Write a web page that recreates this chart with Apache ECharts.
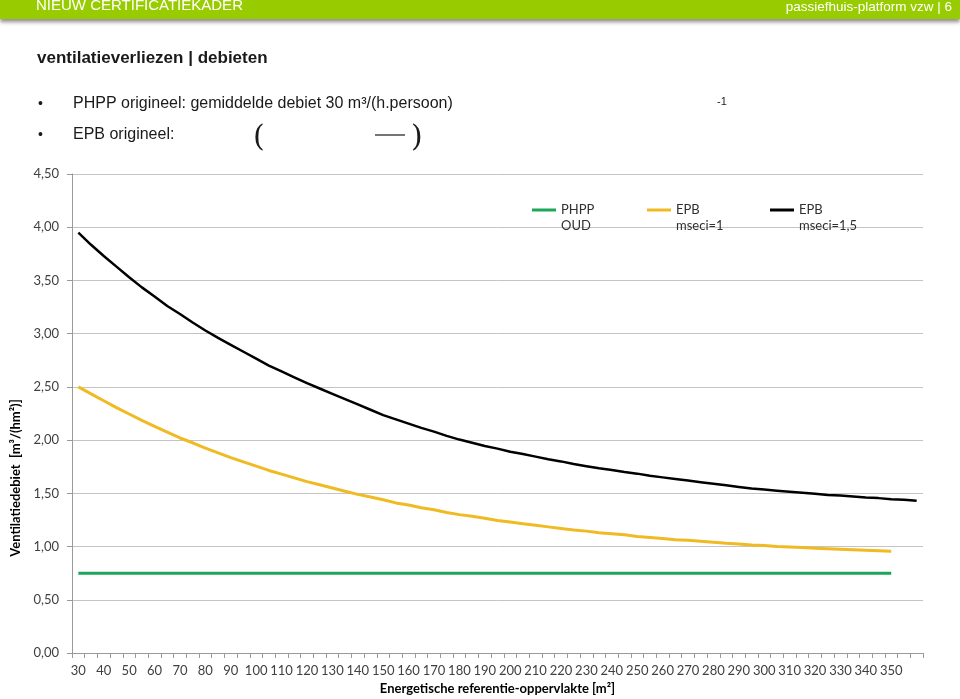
<!DOCTYPE html>
<html>
<head>
<meta charset="utf-8">
<script src="https://cdn.jsdelivr.net/npm/echarts@6/dist/echarts.min.js"></script>
<style>
html,body{margin:0;padding:0;background:#fff;}
#chart{width:960px;height:699px;}
</style>
</head>
<body>
<div id="chart"></div>
<script>
// ---- data ----
const categories = ['30','35','40','45','50','55','60','65','70','75','80','85','90','95','100','105','110','115','120','125','130','135','140','145','150','155','160','165','170','175','180','185','190','195','200','205','210','215','220','225','230','235','240','245','250','255','260','265','270','275','280','285','290','295','300','305','310','315','320','325','330','335','340','345','350','355','360'];
const seriesNames = ['PHPP OUD', 'EPB mseci=1', 'EPB mseci=1,5'];
const phppOud = [0.75,0.75,0.75,0.75,0.75,0.75,0.75,0.75,0.75,0.75,0.75,0.75,0.75,0.75,0.75,0.75,0.75,0.75,0.75,0.75,0.75,0.75,0.75,0.75,0.75,0.75,0.75,0.75,0.75,0.75,0.75,0.75,0.75,0.75,0.75,0.75,0.75,0.75,0.75,0.75,0.75,0.75,0.75,0.75,0.75,0.75,0.75,0.75,0.75,0.75,0.75,0.75,0.75,0.75,0.75,0.75,0.75,0.75,0.75,0.75,0.75,0.75,0.75,0.75,0.75,null,null];
const epbMsec1 = [2.50,2.435,2.37,2.305,2.245,2.185,2.13,2.075,2.02,1.975,1.925,1.88,1.835,1.795,1.755,1.715,1.68,1.645,1.61,1.58,1.55,1.52,1.49,1.465,1.44,1.41,1.39,1.365,1.345,1.32,1.30,1.285,1.265,1.245,1.23,1.215,1.20,1.185,1.17,1.155,1.145,1.13,1.12,1.11,1.095,1.085,1.075,1.065,1.06,1.05,1.04,1.03,1.025,1.015,1.01,1.00,0.995,0.99,0.985,0.98,0.975,0.97,0.965,0.96,0.955,null,null];
const epbMsec15 = [3.95,3.835,3.73,3.63,3.53,3.435,3.35,3.26,3.185,3.105,3.03,2.96,2.895,2.83,2.765,2.70,2.645,2.59,2.535,2.485,2.435,2.385,2.335,2.285,2.235,2.195,2.155,2.115,2.08,2.04,2.005,1.975,1.945,1.92,1.89,1.87,1.845,1.82,1.80,1.775,1.755,1.735,1.72,1.70,1.685,1.665,1.65,1.635,1.62,1.605,1.59,1.575,1.56,1.545,1.535,1.525,1.515,1.505,1.495,1.485,1.48,1.47,1.46,1.455,1.445,1.44,1.43];
const seriesColors = ['#1ea55a', '#f0ba23', '#000000'];
const yTicks = {min: 0, max: 4.5, interval: 0.5};

const chart = echarts.init(document.getElementById('chart'), null, {renderer: 'canvas'});
const chartFont = 'Lato, "Open Sans", sans-serif';
const pageFont = '"Liberation Sans", Arial, sans-serif';

function legendFor(i, left) {
  return {
    data: [seriesNames[i]], left: left, top: 186, padding: 0,
    icon: 'rect', itemWidth: 24, itemHeight: 3, itemGap: 0,
    formatter: n => '\n' + n.replace(' ', '\n'),
    textStyle: {fontFamily: chartFont, fontSize: 13, color: '#303030', lineHeight: 16}
  };
}

const option = {
  backgroundColor: '#ffffff',
  animation: false,
  grid: {left: 72, right: 37, top: 174, bottom: 46, containLabel: false, outerBoundsMode: 'none'},
  legend: [legendFor(0, 532), legendFor(1, 647), legendFor(2, 770)],
  xAxis: {
    type: 'category', data: categories, boundaryGap: true,
    axisLine: {lineStyle: {color: '#9a9a9a', width: 1}},
    axisTick: {show: true, interval: 0, length: 5, lineStyle: {color: '#9a9a9a'}},
    axisLabel: {
      interval: (idx, val) => idx % 2 === 0 && val !== '360',
      margin: 11, fontFamily: chartFont, fontSize: 13, color: '#404040'
    },
    name: 'Energetische referentie-oppervlakte [m²]', nameLocation: 'middle', nameGap: 29,
    nameTextStyle: {fontFamily: chartFont, fontSize: 13, fontWeight: 'bold', color: '#000'}
  },
  yAxis: {
    type: 'value', min: yTicks.min, max: yTicks.max, interval: yTicks.interval,
    axisLine: {show: true, lineStyle: {color: '#9a9a9a', width: 1}},
    axisTick: {show: true, length: 5, lineStyle: {color: '#9a9a9a'}},
    splitLine: {lineStyle: {color: '#c4c4c4', width: 1}},
    axisLabel: {
      formatter: v => v.toFixed(2).replace('.', ','),
      margin: 13, fontFamily: chartFont, fontSize: 13, color: '#404040'
    }
  },
  series: [
    {name: seriesNames[0], type: 'line', data: phppOud, showSymbol: false, symbol: 'none',
     lineStyle: {color: seriesColors[0], width: 3}, itemStyle: {color: seriesColors[0]}},
    {name: seriesNames[1], type: 'line', data: epbMsec1, showSymbol: false, symbol: 'none',
     lineStyle: {color: seriesColors[1], width: 3}, itemStyle: {color: seriesColors[1]}},
    {name: seriesNames[2], type: 'line', data: epbMsec15, showSymbol: false, symbol: 'none',
     lineStyle: {color: seriesColors[2], width: 2.5}, itemStyle: {color: seriesColors[2]}}
  ],
  graphic: [
    {type: 'rect', shape: {x: 0, y: 0, width: 960, height: 19}, z: 10,
     style: {fill: '#99cc00', shadowColor: 'rgba(0,0,0,0.45)', shadowBlur: 4, shadowOffsetY: 3}},
    {type: 'text', x: 36, y: 6, z: 11, style: {text: 'NIEUW CERTIFICATIEKADER', fill: '#ffffff', font: '15px ' + pageFont, textVerticalAlign: 'middle'}},
    {type: 'text', x: 952, y: 7, z: 11, style: {text: 'passiefhuis-platform vzw | 6', fill: '#ffffff', font: '13.5px ' + pageFont, textAlign: 'right', textVerticalAlign: 'middle'}},
    {type: 'text', x: 37, y: 58, style: {text: 'ventilatieverliezen | debieten', fill: '#1a1a1a', font: 'bold 17px ' + pageFont, textVerticalAlign: 'middle'}},
    {type: 'text', x: 38, y: 104, style: {text: '•', fill: '#1a1a1a', font: '14px ' + pageFont, textVerticalAlign: 'middle'}},
    {type: 'text', x: 73, y: 104, style: {text: 'PHPP origineel: gemiddelde debiet 30 m³/(h.persoon)', fill: '#1a1a1a', font: '16px ' + pageFont, textVerticalAlign: 'middle'}},
    {type: 'text', x: 717, y: 102, style: {text: '-1', fill: '#1a1a1a', font: '11px ' + pageFont, textVerticalAlign: 'middle'}},
    {type: 'text', x: 38, y: 135, style: {text: '•', fill: '#1a1a1a', font: '14px ' + pageFont, textVerticalAlign: 'middle'}},
    {type: 'text', x: 73, y: 135, style: {text: 'EPB origineel:', fill: '#1a1a1a', font: '16px ' + pageFont, textVerticalAlign: 'middle'}},
    {type: 'text', x: 253, y: 138, style: {text: '(', fill: '#1a1a1a', font: '30px "DejaVu Serif", serif', textVerticalAlign: 'middle'}},
    {type: 'text', x: 411, y: 138, style: {text: ')', fill: '#1a1a1a', font: '30px "DejaVu Serif", serif', textVerticalAlign: 'middle'}},
    {type: 'line', shape: {x1: 375, y1: 135, x2: 405, y2: 135}, style: {stroke: '#1a1a1a', lineWidth: 1.2}},
    {type: 'text', x: 16, y: 478, rotation: Math.PI / 2,
     style: {text: 'Ventilatiedebiet  [m³/(hm²)]', fill: '#000', font: 'bold 13px ' + chartFont, textAlign: 'center', textVerticalAlign: 'middle'}}
  ]
};
chart.setOption(option);
</script>
</body>
</html>
